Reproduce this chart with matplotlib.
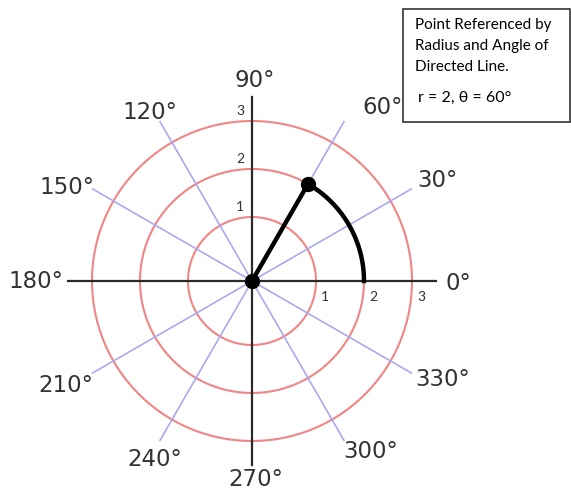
# polar coordinate diagram: point at r = 2, theta = 60 degrees

import numpy as np
import matplotlib.pyplot as plt

# data for the diagram
ring_radii = [1, 2, 3]
ring_labels = ["1", "2", "3"]
spoke_angles = [30, 60, 120, 150, 210, 240, 300, 330]
angle_labels = [0, 30, 60, 90, 120, 150, 180, 210, 240, 270, 300, 330]
point_r = 2
point_theta = 60
note_lines = ["Point Referenced by", "Radius and Angle of", "Directed Line."]
note_value = "r = 2, \u03b8 = 60\u00b0"

# the picture is drawn in pixel units around the pole
def to_px(r):
    return 16 + 48 * r

spoke_len = 184
# where each angle label sits relative to the pole (px)
label_pos = [(206, -2), (185, 101), (131, 174), (3, 201), (-102, 169), (-185, 94),
             (-216, -1), (-186, -104), (-97, -179), (4, -198), (119, -171), (191, -99)]

red = "#f08585"
blue = "#a9a9f2"
dark = "#2b2b2b"

fig = plt.figure(figsize=(5.71, 4.91), dpi=100)
ax = fig.add_axes([0, 0, 1, 1])
ax.set_xlim(-252, 319)
ax.set_ylim(-210, 281)
ax.axis("off")

t = np.linspace(0, 2 * np.pi, 400)
for r in ring_radii:
    ax.plot(to_px(r) * np.cos(t), to_px(r) * np.sin(t), color=red, lw=1.5, zorder=1)

for a in spoke_angles:
    rad = np.radians(a)
    ax.plot([0, spoke_len * np.cos(rad)], [0, spoke_len * np.sin(rad)], color=blue, lw=1.2, zorder=2)

# main axes
ax.plot([-spoke_len, spoke_len], [0, 0], color=dark, lw=1.6, zorder=3)
ax.plot([0, 0], [-spoke_len, spoke_len], color=dark, lw=1.6, zorder=3)

for a, (dx, dy) in zip(angle_labels, label_pos):
    ax.text(dx, dy, f"{a}\u00b0", fontsize=16.5, color="#333333",
            ha="center", va="center", family="DejaVu Sans")

for r, lab in zip(ring_radii, ring_labels):
    ax.text(to_px(r) + 9, -16, lab, fontsize=10, color="#333333", ha="center", va="center", family="Lato")
    ax.text(-12, to_px(r) + 10, lab, fontsize=10, color="#333333", ha="center", va="center", family="Lato")

# directed line and the arc back to 0 degrees
pr = to_px(point_r)
prad = np.radians(point_theta)
ax.plot([0, pr * np.cos(prad)], [0, pr * np.sin(prad)], color="black", lw=3.2, zorder=4)
arc = np.linspace(prad, 0, 60)
ax.plot(pr * np.cos(arc), pr * np.sin(arc), color="black", lw=3.2, zorder=4)
ax.plot([pr * np.cos(prad)], [pr * np.sin(prad)], "o", color="black", ms=10, zorder=5)
ax.plot([0], [0], "o", color="black", ms=10, zorder=5)

# note box in the top right corner
fig.patches.append(plt.Rectangle((403 / 571, 1 - 122 / 491), 167 / 571, 113 / 491,
                                 transform=fig.transFigure, facecolor="white",
                                 edgecolor="#333333", lw=1.2))
for i, line in enumerate(note_lines):
    fig.text(415 / 571, 1 - (25 + 21 * i) / 491, line, fontsize=11, family="Lato",
             color="black", va="center")
fig.text(418 / 571, 1 - 98 / 491, note_value, fontsize=11.5, family="Lato", color="black", va="center")

plt.savefig("out.png", dpi=100)
